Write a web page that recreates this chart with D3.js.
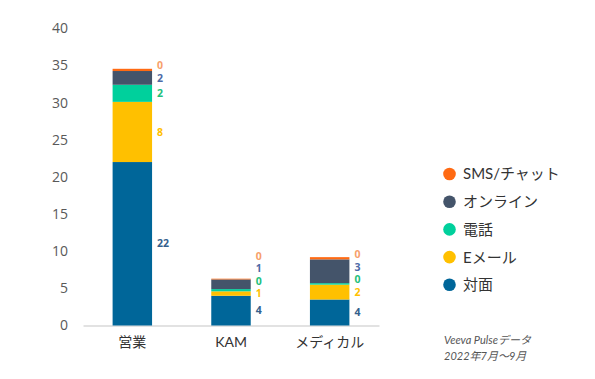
<!DOCTYPE html>
<html><head><meta charset="utf-8">
<script src="https://cdn.jsdelivr.net/npm/d3@7"></script>
<style>
body{margin:0;background:#fff;}
svg{display:block;}
</style></head>
<body><svg id="c" width="595" height="379"></svg>
<script>
const categories = ["営業", "KAM", "メディカル"];
const seriesNames = ["対面", "Eメール", "電話", "オンライン", "SMS/チャット"];
const taimen   = [22.0, 4.0, 3.5];
const email    = [8.1, 0.6, 2.0];
const denwa    = [2.3, 0.3, 0.2];
const online   = [1.85, 1.3, 3.2];
const sms      = [0.3, 0.1, 0.3];
const yTicks = [0, 5, 10, 15, 20, 25, 30, 35, 40];
const barColors = ["#006699", "#ffc000", "#00d09c", "#44546a", "#ff6a13"];
const labelColors = ["#34608c", "#ffc000", "#22c07a", "#4c6aa6", "#f7a06a"];
const noteLines = ["Veeva Pulseデータ", "2022年7月～9月"];

const values = [taimen, email, denwa, online, sms];
const rows = categories.map((c, i) => {
  const r = {cat: c};
  seriesNames.forEach((s, k) => r[s] = values[k][i]);
  return r;
});
const stacked = d3.stack().keys(seriesNames)(rows);

const svg = d3.select("#c");
const x = d3.scaleBand().domain(categories).range([83, 379]).paddingInner(0.6).paddingOuter(0.3);
const y = d3.scaleLinear().domain([0, 40]).range([325.5, 28.3]);
const font = "'Open Sans', 'Noto Sans CJK JP', sans-serif";

// y axis labels
const yAxis = d3.axisLeft(y).tickValues(yTicks).tickSize(0).tickPadding(0);
const gy = svg.append("g").attr("transform", "translate(68,0)").call(yAxis);
gy.select(".domain").remove();
gy.selectAll("text").attr("font-family", font).attr("font-size", 14).attr("fill", "#595959");

// x axis
const xAxis = d3.axisBottom(x).tickSize(0).tickPadding(12);
const gx = svg.append("g").attr("transform", "translate(0,325.5)").call(xAxis);
gx.select(".domain").attr("stroke", "#d9d9d9").attr("stroke-width", 1.5);
gx.selectAll("text").attr("font-family", "Lato, 'Noto Sans CJK JP', sans-serif").attr("font-size", 14).attr("fill", "#333");

// bars
svg.append("g").selectAll("g").data(stacked).join("g")
  .attr("fill", (d, i) => barColors[i])
  .selectAll("rect").data(d => d).join("rect")
  .attr("x", d => x(d.data.cat))
  .attr("width", x.bandwidth())
  .attr("y", d => y(d[1]))
  .attr("height", d => y(d[0]) - y(d[1]));

// labels with collision avoidance
categories.forEach((c, i) => {
  let prev = Infinity;
  stacked.forEach((s, k) => {
    const seg = s[i];
    let cy = (y(seg[0]) + y(seg[1])) / 2;
    if (cy > prev - 12.5) cy = prev - 12.5;
    prev = cy;
    svg.append("text")
      .attr("x", x(c) + x.bandwidth() + 5)
      .attr("y", cy)
      .attr("dy", "0.35em")
      .attr("font-family", "'Open Sans', sans-serif")
      .attr("font-size", 10.5)
      .attr("font-weight", 700)
      .attr("fill", labelColors[k])
      .text(Math.round(values[k][i]));
  });
});

// legend
const legOrder = seriesNames.slice().reverse();
const lg = svg.append("g");
legOrder.forEach((s, j) => {
  const k = seriesNames.indexOf(s);
  const cy = 174 + j * 27.7;
  lg.append("circle").attr("cx", 449.5).attr("cy", cy).attr("r", 6.3).attr("fill", barColors[k]);
  lg.append("text").attr("x", 463).attr("y", cy).attr("dy", "0.36em")
    .attr("font-family", "Lato, 'Noto Sans CJK JP', sans-serif").attr("font-size", 15).attr("fill", "#333").text(s);
});

// note
noteLines.forEach((t, j) => {
  svg.append("text").attr("x", 444).attr("y", 344 + j * 16)
    .attr("font-family", "Lato, 'Noto Sans CJK JP', sans-serif").attr("font-size", 11)
    .attr("font-style", "italic").attr("fill", "#555").text(t);
});
</script></body></html>
